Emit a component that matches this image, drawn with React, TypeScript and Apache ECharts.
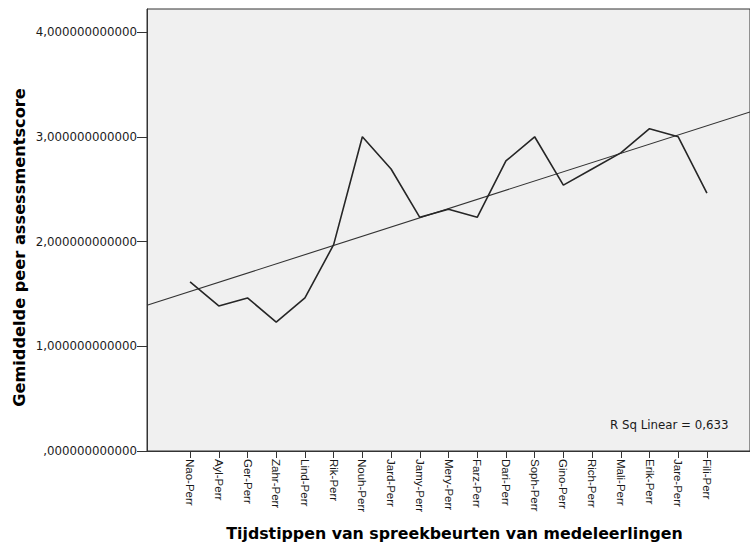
import React, { useEffect, useRef } from "react";
import * as echarts from "echarts";

const categories = [
  "Nao-Perr", "Ayl-Perr", "Ger-Perr", "Zahr-Perr", "Lind-Perr", "Rik-Perr",
  "Nouh-Perr", "Jard-Perr", "Jamy-Perr", "Mery-Perr", "Farz-Perr", "Dari-Perr",
  "Soph-Perr", "Gino-Perr", "Rich-Perr", "Mali-Perr", "Erik-Perr", "Jare-Perr", "Fili-Perr",
];
const scores = [
  1.6154, 1.3846, 1.4615, 1.2308, 1.4615, 1.97,
  3.0, 2.6923, 2.2308, 2.3077, 2.2308, 2.7692,
  3.0, 2.5385, 2.6923, 2.8462, 3.0769, 3.0, 2.4615,
];
const yTickValues = [0, 1, 2, 3, 4];
const yTickLabels = [
  ",000000000000", "1,000000000000", "2,000000000000", "3,000000000000", "4,000000000000",
];
const yTitle = "Gemiddelde peer assessmentscore";
const xTitle = "Tijdstippen van spreekbeurten van medeleerlingen";
const rSquaredLabel = "R Sq Linear = 0,633";

export default function App() {
  const ref = useRef<HTMLDivElement>(null);

  useEffect(() => {
    document.body.style.margin = "0";
    if (!ref.current) return;
    const chart = echarts.init(ref.current, null, { renderer: "svg" });

    const xs = scores.map((_, i) => i + 1);
    const n = xs.length;
    const mx = xs.reduce((a, b) => a + b, 0) / n;
    const my = scores.reduce((a, b) => a + b, 0) / n;
    let sxy = 0;
    let sxx = 0;
    for (let i = 0; i < n; i++) {
      sxy += (xs[i] - mx) * (scores[i] - my);
      sxx += (xs[i] - mx) * (xs[i] - mx);
    }
    const slope = sxy / sxx;
    const intercept = my - slope * mx;
    const xMin = -0.5;
    const xMax = 20.5;

    chart.setOption({
      animation: false,
      grid: {
        left: 147,
        top: 9,
        right: -8,
        bottom: 95,
        show: true,
        backgroundColor: "#F0F0F0",
        borderColor: "#333333",
        borderWidth: 1,
      },
      xAxis: {
        type: "value",
        min: xMin,
        max: xMax,
        splitLine: { show: false },
        axisLine: { show: true, onZero: false, lineStyle: { color: "#333333", width: 1 } },
        axisTick: {
          show: true,
          customValues: xs,
          length: 7,
          lineStyle: { color: "#333333" },
        },
        axisLabel: {
          customValues: xs,
          rotate: -90,
          margin: 8,
          formatter: (v: number) => categories[Math.round(v) - 1] ?? "",
          fontFamily: "Liberation Sans",
          fontSize: 11.5,
          color: "#1a1a1a",
        },
      },
      yAxis: {
        type: "value",
        min: 0,
        max: 4.22,
        splitLine: { show: false },
        axisLine: { show: true, onZero: false, lineStyle: { color: "#333333", width: 1 } },
        axisTick: {
          show: true,
          customValues: yTickValues,
          length: 10,
          lineStyle: { color: "#333333" },
        },
        axisLabel: {
          customValues: yTickValues,
          margin: 10,
          formatter: (v: number) => yTickLabels[yTickValues.indexOf(Math.round(v))] ?? "",
          fontFamily: "DejaVu Sans",
          fontSize: 11.8,
          color: "#1a1a1a",
        },
      },
      series: [
        {
          type: "line",
          data: xs.map((x, i) => [x, scores[i]]),
          symbol: "none",
          lineStyle: { color: "#262626", width: 1.6 },
          z: 3,
        },
        {
          type: "line",
          data: [
            [xMin, intercept + slope * xMin],
            [xMax, intercept + slope * xMax],
          ],
          symbol: "none",
          lineStyle: { color: "#333333", width: 1.1 },
          z: 2,
        },
      ],
      graphic: [
        {
          type: "text",
          x: 19.5,
          y: 247.5,
          rotation: Math.PI / 2,
          style: {
            text: yTitle,
            align: "center",
            verticalAlign: "middle",
            fontFamily: "DejaVu Sans",
            fontWeight: "bold",
            fontSize: 16.2,
            fill: "#000000",
          },
        },
        {
          type: "text",
          x: 454.5,
          y: 533,
          style: {
            text: xTitle,
            align: "center",
            verticalAlign: "middle",
            fontFamily: "DejaVu Sans",
            fontWeight: "bold",
            fontSize: 15.8,
            fill: "#000000",
          },
        },
        {
          type: "text",
          x: 610,
          y: 425,
          style: {
            text: rSquaredLabel,
            align: "left",
            verticalAlign: "middle",
            fontFamily: "DejaVu Sans",
            fontSize: 11.8,
            fill: "#1a1a1a",
          },
        },
      ],
    });

    return () => chart.dispose();
  }, []);

  return (
    <div
      ref={ref}
      style={{ position: "absolute", left: 0, top: 0, width: 750, height: 546 }}
    />
  );
}
